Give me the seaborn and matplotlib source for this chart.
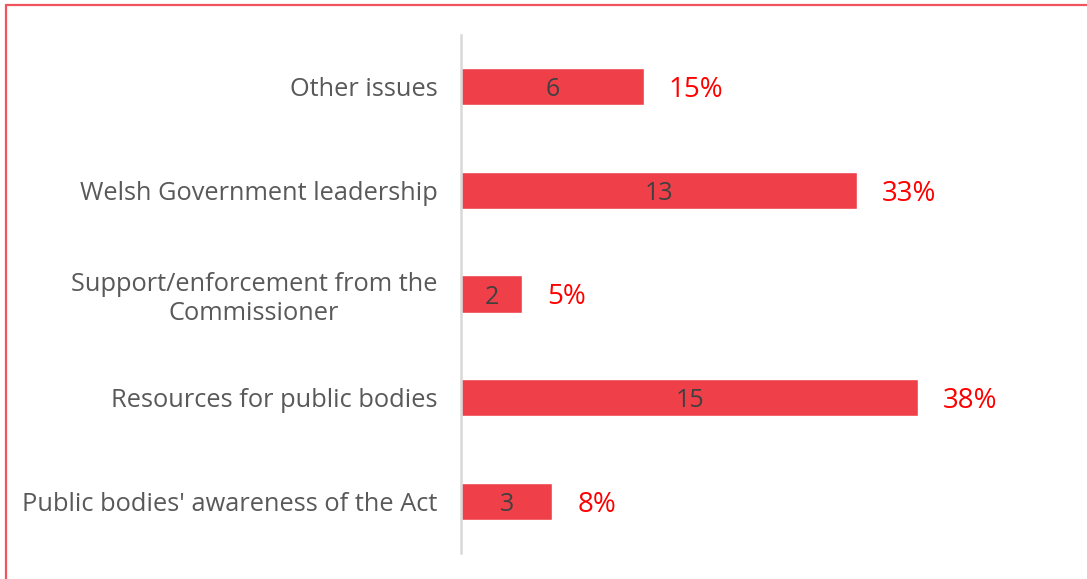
import matplotlib
matplotlib.use("Agg")
import matplotlib.pyplot as plt
from matplotlib.lines import Line2D
import seaborn as sns
import pandas as pd

categories = [
    "Other issues",
    "Welsh Government leadership",
    "Support/enforcement from the\nCommissioner",
    "Resources for public bodies",
    "Public bodies' awareness of the Act",
]
counts = [6, 13, 2, 15, 3]
percent_labels = ["15%", "33%", "5%", "38%", "8%"]

BAR_COLOR = "#EF404A"
TEXT_GREY = "#595959"
COUNT_GREY = "#404040"
PCT_RED = "#FF0000"
FRAME_RED = "#F2545E"

sns.set_theme(style="white")
plt.rcParams["font.family"] = ["Open Sans", "DejaVu Sans"]

W, H = 1087, 579
fig = plt.figure(figsize=(W / 100, H / 100), dpi=100)
ax = fig.add_axes([461 / W, 1 - 553 / H, (W - 461) / W, (553 - 35) / H])

df = pd.DataFrame({"category": categories, "count": counts})
sns.barplot(data=df, x="count", y="category", orient="h", color=BAR_COLOR,
            width=0.36, saturation=1, ax=ax)

px_per_unit = (918 - 461) / 15
ax.set_xlim(0, (W - 461) / px_per_unit)
ax.set_ylim(4.5, -0.5)

for i, (c, p) in enumerate(zip(counts, percent_labels)):
    ax.text(c / 2, i, str(c), ha="center", va="center_baseline", fontsize=18,
            color=COUNT_GREY)
    ax.text(c + 25 / px_per_unit, i, p, ha="left", va="center_baseline", fontsize=20,
            color=PCT_RED)

ax.set_xlabel("")
ax.set_ylabel("")
ax.set_xticks([])
ax.tick_params(axis="y", length=0, pad=17, labelsize=18.3, labelcolor=TEXT_GREY)
for lbl in ax.get_yticklabels():
    lbl.set_multialignment("center")

for side in ["top", "right", "bottom"]:
    ax.spines[side].set_visible(False)
ax.spines["left"].set_color("#D9D9D9")
ax.spines["left"].set_linewidth(1.8)

# thin frame along the left and top edges
fig.add_artist(Line2D([6 / W, 6 / W], [0, 1 - 5 / H], color=FRAME_RED, lw=1.6,
                      transform=fig.transFigure))
fig.add_artist(Line2D([6 / W, 1], [1 - 5 / H, 1 - 5 / H], color=FRAME_RED, lw=1.6,
                      transform=fig.transFigure))

fig.savefig("out.png", dpi=100)
